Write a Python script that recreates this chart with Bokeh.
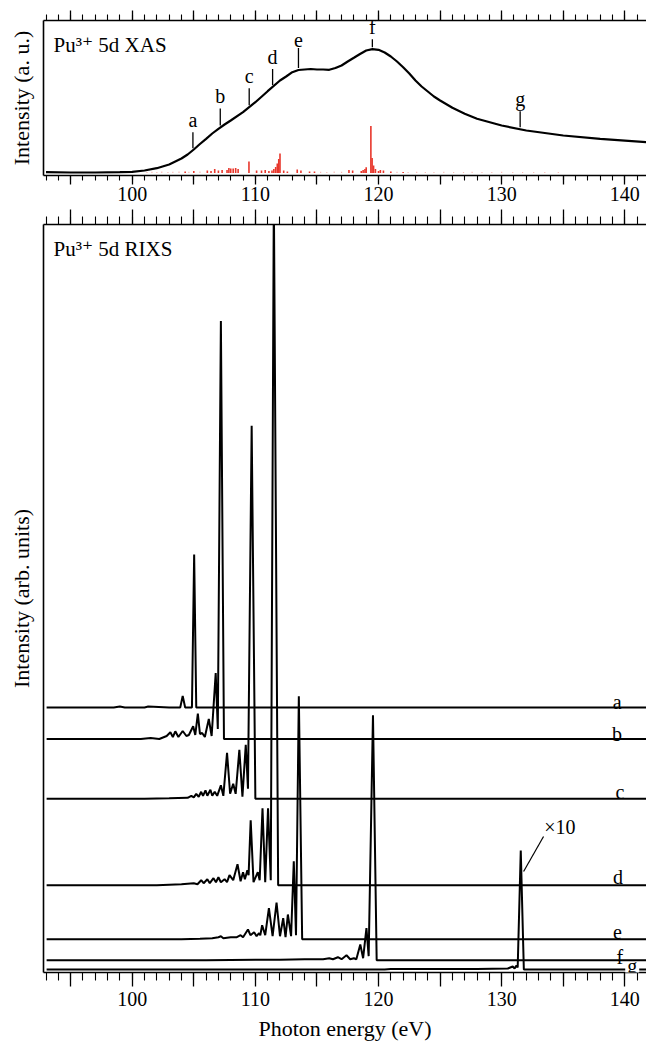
import numpy as np
from bokeh.plotting import figure
from bokeh.models import (Range1d, LinearAxis, SingleIntervalTicker, FixedTicker,
                          CustomJSTickFormatter, Label)
from bokeh.core.properties import value
from bokeh.layouts import column
from bokeh.embed import file_html
from bokeh.resources import INLINE

FONT = "'Liberation Serif', 'Times New Roman', 'DejaVu Serif', serif"

# ---------------- XAS data ----------------
xas_energy = [93.0, 95, 97, 99, 100, 101, 102, 103, 104, 104.5, 105, 105.5, 106, 106.5, 107, 107.5,
              108, 109, 110, 111, 112, 112.5, 113, 113.5, 114, 114.5, 115, 115.5, 116, 116.5, 117,
              117.5, 118, 118.5, 119, 119.5, 120, 120.5, 121, 121.5, 122, 122.5, 123, 123.5, 124,
              124.5, 125, 126, 127, 128, 130, 132, 135, 138, 141.8]
xas_intensity = [0.033, 0.03, 0.03, 0.033, 0.037, 0.05, 0.073, 0.11, 0.17, 0.21, 0.26, 0.315, 0.367,
                 0.42, 0.467, 0.51, 0.55, 0.633, 0.733, 0.843, 0.95, 0.99, 1.033, 1.055, 1.06, 1.065,
                 1.06, 1.06, 1.057, 1.075, 1.10, 1.14, 1.177, 1.215, 1.25, 1.263, 1.257, 1.23, 1.19,
                 1.14, 1.083, 1.02, 0.95, 0.89, 0.84, 0.79, 0.75, 0.677, 0.617, 0.567, 0.50, 0.45,
                 0.40, 0.367, 0.333]

stick_base = 0.026
stick_energy = [104.3, 105.0, 106.1, 106.4, 106.7, 107.0, 107.3, 107.7, 107.85, 108.0,
                108.2, 108.4, 108.6, 109.48, 110.1, 110.5, 110.8, 111.1, 111.35, 111.5,
                111.65, 111.78, 111.9, 112.0, 112.3, 112.6, 113.4, 113.7, 114.4, 114.8,
                117.6, 117.9, 118.6, 118.75, 118.9, 119.0, 119.38, 119.48, 119.6, 119.75,
                120.0, 120.15, 120.4, 121.0, 122.0]
stick_height = [0.015, 0.02, 0.025, 0.02, 0.04, 0.025, 0.03, 0.03, 0.05, 0.045,
                0.045, 0.05, 0.04, 0.115, 0.025, 0.025, 0.03, 0.02, 0.025, 0.04,
                0.06, 0.095, 0.14, 0.195, 0.025, 0.015, 0.033, 0.025, 0.015, 0.015,
                0.03, 0.025, 0.02, 0.03, 0.04, 0.057, 0.47, 0.15, 0.073, 0.04,
                0.02, 0.03, 0.025, 0.015, 0.01]
faint_energy = [101.2, 101.6, 102.0, 102.4, 102.9, 103.3, 103.8, 104.6, 105.5, 115.3,
                115.8, 116.4, 117.0, 121.5, 122.4, 123.1, 123.8, 124.5, 125.3, 126.1,
                126.9, 127.6, 128.4, 129.2, 130.0, 130.9, 131.7, 132.6, 133.5, 134.6]
faint_height = [0.01, 0.012, 0.01, 0.015, 0.01, 0.012, 0.015, 0.012, 0.015, 0.012,
                0.01, 0.015, 0.012, 0.012, 0.01, 0.012, 0.01, 0.01, 0.012, 0.01,
                0.01, 0.012, 0.01, 0.01, 0.012, 0.01, 0.01, 0.01, 0.008, 0.008]

marker_labels = ["a", "b", "c", "d", "e", "f", "g"]
marker_energy = [104.93, 107.15, 109.5, 111.4, 113.5, 119.5, 131.5]
marker_length = [0.16, 0.17, 0.17, 0.16, 0.20, 0.08, 0.16]

# ---------------- RIXS data ----------------
rixs_a_E = [93.05, 98.5, 99.0, 99.4, 101.0, 101.3, 103.0, 103.9, 104.1, 104.3, 104.85, 105.03, 105.2, 142.0]
rixs_a_I = [0, 0, 0.01, 0, 0, 0.01, 0, 0, 0.116, 0, 0, 1.53, 0, 0]
rixs_b_E = [93.05, 100.7, 101.5, 102.2, 102.8, 103.1, 103.3, 103.5, 103.75, 104.1, 104.4, 104.6, 104.95,
            105.12, 105.33, 105.5, 105.68, 105.9, 106.22, 106.45, 106.78, 106.95, 107.2, 107.45, 142.0]
rixs_b_I = [0, 0, 0.01, 0.0, 0.03, 0.067, 0.02, 0.077, 0.02, 0.08, 0.03, 0.04, 0.127,
            0.04, 0.253, 0.05, 0.06, 0.02, 0.2, 0.03, 0.66, 0.1, 4.18, 0, 0]
rixs_c_E = [93.05, 101.0, 103.0, 104.5, 104.8, 105.0, 105.2, 105.4, 105.6, 105.75, 105.95, 106.1, 106.35,
            106.5, 106.7, 106.9, 107.2, 107.4, 107.7, 107.95, 108.2, 108.4, 108.7, 108.95, 109.22, 109.4,
            109.7, 110.0, 142.0]
rixs_c_I = [0, 0, 0.005, 0.01, 0.03, 0.015, 0.05, 0.02, 0.07, 0.03, 0.085, 0.03, 0.09,
            0.03, 0.07, 0.03, 0.135, 0.03, 0.46, 0.05, 0.15, 0.05, 0.49, 0.02, 0.54, 0.1,
            3.73, 0, 0]
rixs_d_E = [93.05, 102.0, 104.0, 105.0, 105.3, 105.6, 105.8, 106.1, 106.3, 106.6, 106.8, 107.0, 107.2,
            107.5, 107.7, 107.9, 108.2, 108.55, 108.8, 109.0, 109.15, 109.35, 109.45, 109.62, 109.85,
            110.2, 110.35, 110.58, 110.8, 111.03, 111.25, 111.5, 111.85, 142.0]
rixs_d_I = [0, 0, 0.01, 0.02, 0.01, 0.05, 0.02, 0.06, 0.02, 0.07, 0.03, 0.08, 0.03,
            0.06, 0.03, 0.10, 0.05, 0.21, 0.04, 0.13, 0.06, 0.15, 0.10, 0.65, 0.03,
            0.13, 0.05, 0.77, 0.03, 0.77, 0.05, 6.9, 0, 0]
rixs_e_E = [93.05, 104.0, 105.5, 106.5, 107.0, 107.2, 107.4, 108.0, 108.5, 108.8, 109.0, 109.4, 109.6,
            109.9, 110.1, 110.3, 110.4, 110.55, 110.8, 111.1, 111.4, 111.72, 112.0, 112.26, 112.45,
            112.64, 112.9, 113.12, 113.3, 113.53, 113.8, 142.0]
rixs_e_I = [0, 0, 0.005, 0.01, 0.02, 0.03, 0.01, 0.02, 0.02, 0.04, 0.02, 0.097, 0.04,
            0.07, 0.03, 0.06, 0.04, 0.14, 0.04, 0.31, 0.03, 0.367, 0.03, 0.21, 0.02,
            0.247, 0.03, 0.78, 0.04, 2.43, 0, 0]
rixs_f_E = [93.05, 106.0, 110.0, 112.0, 114.0, 115.5, 116.0, 116.3, 116.7, 117.0, 117.4, 117.7, 118.0,
            118.2, 118.52, 118.75, 119.02, 119.2, 119.55, 119.85, 141.76]
rixs_f_I = [0, 0, 0.005, 0.005, 0.01, 0.01, 0.02, 0.01, 0.03, 0.01, 0.05, 0.01, 0.02,
            0.01, 0.157, 0.02, 0.32, 0.04, 2.45, 0, 0]
rixs_g_E = [93.05, 120.5, 121.0, 125.0, 128.0, 130.5, 130.9, 131.05, 131.2, 131.3, 131.55, 131.8, 142.0]
rixs_g_I = [0, 0, 0.005, 0.005, 0.005, 0.01, 0.03, 0.01, 0.04, 0.02, 1.19, 0, 0]

rixs_names = ["a", "b", "c", "d", "e", "f", "g"]
rixs_offset = [2.65, 2.335, 1.737, 0.873, 0.333, 0.123, 0.03]
rixs_label_energy = [139.37, 139.37, 139.6, 139.45, 139.4, 139.6, 140.6]
rixs_label_gap = [0.057, 0.053, 0.07, 0.084, 0.074, 0.034, 0.035]
rixs_energy = [rixs_a_E, rixs_b_E, rixs_c_E, rixs_d_E, rixs_e_E, rixs_f_E, rixs_g_E]
rixs_intensity = [rixs_a_I, rixs_b_I, rixs_c_I, rixs_d_I, rixs_e_I, rixs_f_I, rixs_g_I]

X_START, X_END = 92.797, 141.76


def style_x(ax, tick_out, minor_out, labels, standoff=3):
    ax.ticker = SingleIntervalTicker(interval=5, num_minor_ticks=5)
    ax.major_tick_in = 0
    ax.minor_tick_in = 0
    ax.major_tick_out = tick_out
    ax.minor_tick_out = minor_out
    ax.axis_line_color = "black"
    ax.axis_line_width = 1.6
    ax.major_tick_line_color = "black"
    ax.minor_tick_line_color = "black"
    ax.major_tick_line_width = 1.3
    ax.minor_tick_line_width = 1.1
    if labels:
        ax.formatter = CustomJSTickFormatter(
            code="const t = Math.round(tick); return (t % 10 === 0) ? t.toString() : '';")
        ax.major_label_text_font = FONT
        ax.major_label_text_font_size = "20px"
        ax.major_label_text_color = "black"
        ax.major_label_standoff = standoff
    else:
        ax.formatter = CustomJSTickFormatter(code="return '';")
        ax.major_label_text_font_size = "0px"
        ax.major_label_standoff = 0


def style_y(ax, label):
    ax.ticker = FixedTicker(ticks=[])
    ax.major_tick_out = 0
    ax.major_tick_in = 0
    ax.major_label_standoff = 0
    ax.axis_line_color = "black"
    ax.axis_line_width = 1.6
    ax.axis_label = label
    ax.axis_label_text_font = FONT
    ax.axis_label_text_font_size = "22px"
    ax.axis_label_text_font_style = "normal"
    ax.axis_label_text_color = "black"
    ax.axis_label_standoff = 10


def base_fig(height, y_end, top, bottom):
    p = figure(width=646, height=height, x_range=Range1d(X_START, X_END),
               y_range=Range1d(0, y_end), output_backend="svg", toolbar_location=None,
               min_border_left=43, min_border_right=0, min_border_top=top,
               min_border_bottom=bottom)
    p.outline_line_color = None
    p.grid.visible = False
    p.background_fill_color = "white"
    p.border_fill_color = "white"
    return p


# ---------------- top panel: XAS ----------------
p1 = base_fig(208, 1.55, 20, 33)
style_x(p1.xaxis[0], 9, 5, True, standoff=2)
top1 = LinearAxis()
p1.add_layout(top1, "above")
style_x(top1, 10, 6, False)
style_y(p1.yaxis[0], "Intensity (a. u.)")

p1.segment(x0=faint_energy, y0=[stick_base] * len(faint_energy), x1=faint_energy,
           y1=[stick_base + h for h in faint_height], line_color="#e8372c", line_alpha=0.35,
           line_width=1.2)
p1.segment(x0=stick_energy, y0=[stick_base] * len(stick_energy), x1=stick_energy,
           y1=[stick_base + h for h in stick_height], line_color="#e8372c", line_width=1.6)
p1.line(xas_energy, xas_intensity, line_color="black", line_width=2.2)

m_curve = np.interp(marker_energy, xas_energy, xas_intensity)
m_y0 = m_curve + 0.02
m_y1 = m_y0 + np.array(marker_length)
p1.segment(x0=marker_energy, y0=m_y0, x1=marker_energy, y1=m_y1, line_color="black",
           line_width=1.3)
p1.text(x=marker_energy, y=m_y1 + 0.012, text=marker_labels, text_align="center",
        text_baseline="bottom", text_font=value(FONT), text_font_size="20px",
        text_color="black")
p1.add_layout(Label(x=93.61, y=1.307, text="Pu³⁺ 5d XAS", text_font=FONT,
                    text_font_size="21px", text_baseline="alphabetic", text_align="left",
                    text_color="black"))

# ---------------- bottom panel: RIXS ----------------
p2 = base_fig(839, 7.48, 16, 75)
style_x(p2.xaxis[0], 14, 8, True, standoff=5)
p2.xaxis[0].axis_label = "Photon energy (eV)"
p2.xaxis[0].axis_label_text_font = FONT
p2.xaxis[0].axis_label_text_font_size = "22px"
p2.xaxis[0].axis_label_text_font_style = "normal"
p2.xaxis[0].axis_label_text_color = "black"
p2.xaxis[0].axis_label_standoff = 7
top2 = LinearAxis()
p2.add_layout(top2, "above")
style_x(top2, 15, 8, False)
style_y(p2.yaxis[0], "Intensity (arb. units)")

for name, E, I, off in zip(rixs_names, rixs_energy, rixs_intensity, rixs_offset):
    r = p2.line(E, [off + v for v in I], line_color="black", line_width=2.0)
    if name == "f":
        r.level = "overlay"   # keep the f trace above the masked "g" label

for name, lx, off, gap in zip(rixs_names, rixs_label_energy, rixs_offset, rixs_label_gap):
    kw = {}
    if name == "g":
        kw = dict(background_fill_color="white", background_fill_alpha=1.0, padding=2)
    p2.add_layout(Label(x=lx, y=off + gap, text=name, text_font=FONT, text_font_size="20px",
                        text_align="center", text_baseline="alphabetic", text_color="black", **kw))

p2.segment(x0=[131.78], y0=[1.01], x1=[133.4], y1=[1.36], line_color="black", line_width=1.2)
p2.add_layout(Label(x=133.45, y=1.46, text="×10", text_font=FONT, text_font_size="20px",
                    text_align="left", text_baseline="middle", text_color="black"))
p2.add_layout(Label(x=93.61, y=7.24, text="Pu³⁺ 5d RIXS", text_font=FONT,
                    text_font_size="21px", text_baseline="alphabetic", text_align="left",
                    text_color="black"))

layout = column(p1, p2)
open("out.html", "w").write(file_html(layout, INLINE))
